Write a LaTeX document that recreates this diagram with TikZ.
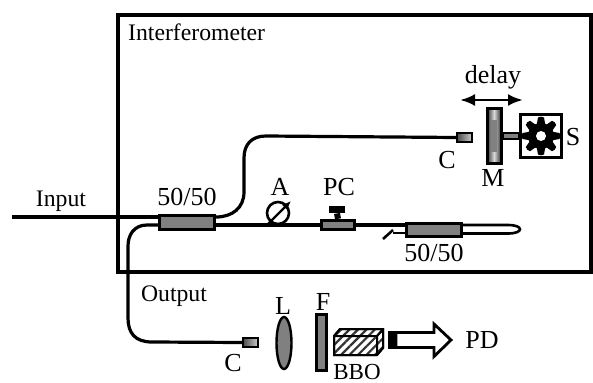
\documentclass[tikz,border=0pt]{standalone}
\usepackage{fontspec}
\setmainfont{Liberation Serif}
\usetikzlibrary{patterns.meta,arrows.meta,shapes.geometric}
\definecolor{gr}{gray}{0.5}
\tikzset{
  x=1pt,y=-1pt,
  lab/.style={inner sep=0pt,font=\fontsize{26}{26}\selectfont},
  labb/.style={inner sep=0pt,font=\fontsize{23.7}{24}\selectfont},
  fiber/.style={line width=3.2pt,black},
  thinfiber/.style={line width=2.6pt,black},
  coll/.style={draw=black,line width=2.2pt,left color=gr!60!black,right color=gr!40,minimum width=15pt,minimum height=9pt,inner sep=0pt},
  box/.style={draw=black,line width=3.4pt,fill=gr,inner sep=0pt,minimum width=#1},
  box/.default=56pt
}
\begin{document}
\begin{tikzpicture}
\useasboundingbox (0,0) rectangle (593,382);
\fill[white] (0,0) rectangle (593,382);
\draw[line width=4pt] (118,15) rectangle (591,272);
\node[labb,anchor=west] (tI) at (128,32) {Interferometer};
\node[labb] (tIn) at (61,201) {Input};
\node[labb] (tOut) at (174,296) {Output};
% couplers
\node[box=55pt,minimum height=14pt] (cp1) at (187,222.5) {};
\node[box=55pt,minimum height=13pt] (cp2) at (434,230) {};
\node[box=33pt,minimum height=9pt] (pc) at (338,225) {};
\node[lab] at (187,197) (t5a) {50/50};
\node[lab] at (434,253) (t5b) {50/50};
\node[lab] at (280,187) (tA) {A};
\node[lab] at (339,187) (tPC) {PC};
% collimators
\node[coll] (c1) at (464.5,137.5) {};
\node[coll] (c2) at (250.5,342.5) {};
\node[lab] at (447,160) (tC1) {C};
\node[lab] at (233,363) (tC2) {C};
% fibres
\coordinate (inp) at (12,217);
\draw[fiber] (inp) -- (cp1.west |- inp);
\draw[fiber] (cp1.east |- 0,217) .. controls (232,217) and (244,208) .. (244,192) -- (244,158) .. controls (244,144) and (252,136) .. (266,136) -- (c1.west);
\draw[fiber] (cp1.west |- 0,225) -- (147,225) .. controls (134,225) and (128,235) .. (128,246) -- (128,318) .. controls (128,333) and (135,342) .. (152,342) -- (c2.west);
\draw[fiber] (cp1.east |- 0,225) -- (pc.west);
\draw[fiber] (pc.east) -- (cp2.west |- 0,225);
\draw[thinfiber] (cp2.east |- 0,225) -- (508,225) .. controls (524,225) and (524,233.5) .. (508,233.5) -- (cp2.east |- 0,233.5);
\coordinate (stub) at (393,233);
\draw[thinfiber] (cp2.west |- stub) -- (stub);
\draw[thinfiber] (383,239) -- (393,230);
% attenuator
\node[draw=black,line width=2.6pt,circle,minimum size=22pt,inner sep=0pt] (att) at (278,213) {};
\draw[line width=2.4pt,-{Latex[length=9pt,width=8pt]}] (268,224) -- (291,201);
% PC knob
\node[fill=black,minimum width=16pt,minimum height=7.5pt,inner sep=0pt] (knob) at (337,209.5) {};
\draw[line width=6pt] (knob.south) -- (pc.north);
% delay line
\node[lab] (td) at (493,77) {delay};
\coordinate (da) at (460,100);
\coordinate (db) at (523,100);
\draw[line width=2.8pt,{Latex[length=15pt,width=12pt]}-{Latex[length=15pt,width=12pt]}] (da) -- (db);
\node[draw=black,line width=3pt,minimum width=14pt,minimum height=54pt,inner sep=0pt,left color=gr!40!black,right color=gr!40!black,middle color=gr!30!white] (m) at (494,136) {};
\fill[gr] (491,120) rectangle (497,152);
\node[lab] at (493,178) (tM) {M};
\node[draw=black,line width=2.6pt,fill=white,minimum width=41pt,minimum height=43pt,inner sep=0pt] (s) at (541,136) {};
\draw[line width=2pt,fill=gr] (m.east |- 0,133) rectangle (s.west |- 0,139.5);
\foreach \a in {0,45,...,315}{
  \fill[black,shift={(541,136)},rotate=\a] (-4.5,-10) -- (-3,-18.5) to[bend left=30] (3,-18.5) -- (4.5,-10) -- cycle;
}
\fill[black] (541,136) circle (13);
\fill[white] (541,136) circle (5);
\node[lab] at (573,137) (tS) {S};
% detection
\node[draw=black,line width=2.4pt,ellipse,fill=gr,minimum width=15pt,minimum height=52pt,inner sep=0pt] (lens) at (284,343) {};
\node[lab] at (283,306) (tL) {L};
\node[draw=black,line width=2.6pt,fill=gr,minimum width=10pt,minimum height=56pt,inner sep=0pt] (f) at (321.5,342.5) {};
\node[lab] at (323,302) (tF) {F};
\filldraw[draw=black,line width=2pt,fill=white] (334,336) -- (340,329) -- (383,329) -- (383,348) -- (377,355) -- (334,355) -- cycle;
\fill[pattern={Lines[angle=45,distance=6pt,line width=2.2pt]},pattern color=black!80] (334,336) -- (340,329) -- (383,329) -- (383,348) -- (377,355) -- (334,355) -- cycle;
\draw[line width=2pt] (334,336) -- (377,336) -- (377,355) (377,336) -- (383,329);
\draw[line width=2pt] (334,336) -- (340,329) -- (383,329) -- (383,348) -- (377,355) -- (334,355) -- cycle;
\node[lab,font=\fontsize{23}{24}\selectfont] at (357,371.5) (tB) {BBO};
\fill[black] (388,331) rectangle (396,348.5);
\draw[line width=2.8pt,fill=white] (396,332.5) -- (434,332.5) -- (434,324) -- (451,340) -- (434,356.5) -- (434,347.5) -- (396,347.5) -- cycle;
\node[lab] at (482,340) (tPD) {PD};
\end{tikzpicture}
\end{document}
